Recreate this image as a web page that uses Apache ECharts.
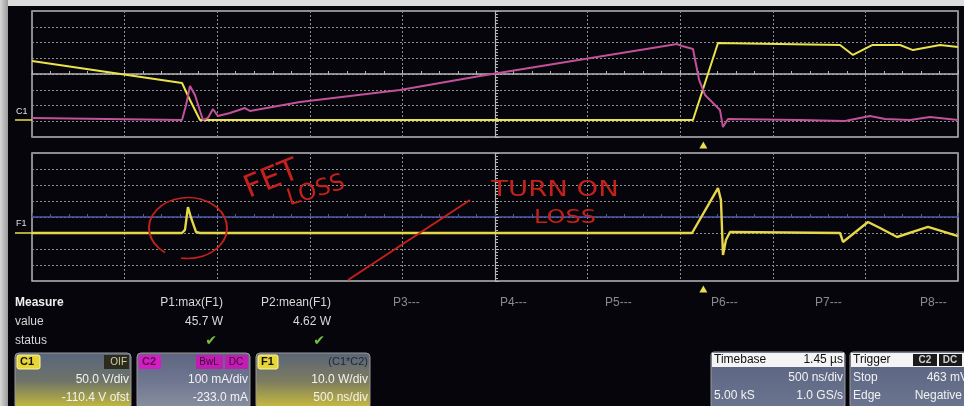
<!DOCTYPE html>
<html><head><meta charset="utf-8">
<script src="https://cdn.jsdelivr.net/npm/echarts@6/dist/echarts.min.js"></script>
<style>html,body{margin:0;padding:0;background:#05050b;}#c{width:964px;height:406px;}</style>
</head><body><div id="c"></div><script>
// time in ns relative to screen centre (500 ns/div), values in divisions
const c1Time = [-2500,-1690,-1647,-1593,1069,1204,1863,1933,2036,2187,2257,2403,2500];
const c1Div  = [0.83,-0.57,-1.65,-2.92,-2.92,1.97,1.84,1.21,1.84,1.84,1.52,1.84,1.71];
const c2Time = [-2500,-1690,-1668,-1647,-1620,-1577,-1550,-1523,-1496,-1431,-1350,-1323,-1053,-513,-81,351,983,1010,1069,1102,1134,1177,1215,1231,1258,1647,1890,1971,2025,2106,2241,2349,2500];
const c2Div  = [-2.79,-2.92,-1.97,-0.76,-1.33,-2.92,-2.79,-2.22,-2.67,-2.48,-2.16,-2.35,-1.78,-1.02,-0.13,0.70,1.90,1.78,1.59,-0.38,-1.33,-1.84,-2.29,-3.37,-2.86,-2.92,-2.98,-2.79,-2.67,-2.86,-2.92,-2.73,-2.92];
const f1Time = [-2500,-1690,-1674,-1658,-1641,-1614,-1593,1064,1204,1220,1231,1247,1269,1863,1879,2014,2079,2171,2338,2430,2500];
const f1Div  = [-1.0,-1.0,-0.81,0.62,-0.06,-0.94,-1.0,-1.0,1.81,1.06,-2.37,-1.44,-0.94,-1.0,-1.56,-0.31,-0.69,-1.25,-0.62,-0.94,-1.19];
const triggerTime = 1125;
const measureHeads = ['P1:max(F1)','P2:mean(F1)'];
const measureVals = ['45.7 W','4.62 W'];
const emptyParams = ['P3---','P4---','P5---','P6---','P7---','P8---'];

const zip = (a,b)=>a.map((t,i)=>[t,b[i]]);
const FONT = '"Liberation Sans", Arial, sans-serif';
const chart = echarts.init(document.getElementById('c'));

function xAx(gi, col){
  return {type:'value', gridIndex:gi, min:-2500, max:2500, interval:500,
    axisLabel:{show:false},
    axisLine:{show:true, onZero:true, lineStyle:{color:col, width:1.5}},
    axisTick:{show:true, inside:true, length:4, lineStyle:{color:col}},
    minorTick:{show:true, splitNumber:5, length:3, lineStyle:{color:col}},
    splitLine:{show:true, lineStyle:{color:'#8e8e8e', type:[2,2], width:1}}};
}
function yAx(gi, col){
  return {type:'value', gridIndex:gi, min:-4, max:4, interval:1,
    axisLabel:{show:false},
    axisLine:{show:true, onZero:true, lineStyle:{color:col, width:1.2}},
    axisTick:{show:true, inside:true, length:4, lineStyle:{color:col}},
    minorTick:{show:true, splitNumber:5, length:3, lineStyle:{color:col}},
    splitLine:{show:true, lineStyle:{color:'#8e8e8e', type:[2,2], width:1}}};
}
function txt(x,y,s,o){o=o||{};return {type:'text', x:x, y:y, z:100, rotation:o.r||0, scaleX:o.sx||1,
  style:{text:s, fill:o.c||'#d8d8d8', font:o.f||('11px '+FONT), align:o.a||'left', verticalAlign:'middle'}};}
function rect(x,y,w,h,fill,stroke,r){return {type:'rect', z:90, shape:{x:x,y:y,width:w,height:h,r:r||0},
  style:{fill:fill, stroke:stroke||null, lineWidth:1}};}
const grad=(stops)=>new echarts.graphic.LinearGradient(0,0,0,1,stops.map((c,i)=>({offset:i/(stops.length-1),color:c})));

const RED='#c4201c';
const g = [];
// screenshot frame edges
g.push(rect(0,0,964,6,'#dcdcdc'));
g.push({type:'rect', z:90, shape:{x:0,y:0,width:8,height:406}, style:{fill:new echarts.graphic.LinearGradient(0,0,1,0,[{offset:0,color:'#d8d8d8'},{offset:1,color:'#9a9a9a'}])}});
// channel side labels
g.push(txt(16,112,'C1',{f:'9px '+FONT,c:'#e0e0e0'}));
g.push({type:'line',z:90,shape:{x1:15,y1:120,x2:32,y2:120},style:{stroke:'#e8e048',lineWidth:1.5}});
g.push(txt(16,224,'F1',{f:'9px '+FONT,c:'#e0e0e0'}));
g.push({type:'line',z:90,shape:{x1:15,y1:233,x2:32,y2:233},style:{stroke:'#e8e048',lineWidth:1.5}});
// red annotations
g.push(txt(272,180,'FET',{f:'31px "DejaVu Sans", sans-serif',c:RED,r:0.38,a:'center'}));
g.push(txt(316,191,'LOSS',{f:'23px "DejaVu Sans", sans-serif',c:RED,r:0.3,a:'center'}));
g.push(txt(555,190,'TURN ON',{f:'22px "DejaVu Sans", sans-serif',c:RED,a:'center',sx:1.25}));
g.push(txt(565,218,'LOSS',{f:'20px "DejaVu Sans", sans-serif',c:RED,a:'center',sx:1.2}));
g.push({type:'arc',z:95,x:188,y:228,scaleY:0.78,shape:{cx:0,cy:0,r:39,startAngle:2.2,endAngle:2.2+Math.PI*2-0.45},style:{stroke:RED,lineWidth:2,fill:null}});
g.push({type:'line',z:95,shape:{x1:348,y1:280,x2:470,y2:200},style:{stroke:RED,lineWidth:2}});
// measure table
g.push(txt(15,303,'Measure',{f:'bold 12px '+FONT,c:'#f0f0f0'}));
g.push(txt(15,322,'value',{f:'12px '+FONT}));
g.push(txt(15,341,'status',{f:'12px '+FONT}));
const headRight=[223,331];
measureHeads.forEach((h,i)=>{g.push(txt(headRight[i],303,h,{f:'12px '+FONT,a:'right'}));
  g.push(txt(headRight[i],322,measureVals[i],{f:'12px '+FONT,a:'right'}));
  g.push(txt(headRight[i]-6,341,'✔',{f:'14px "DejaVu Sans"',c:'#74c23e',a:'right'}));});
const emptyX=[393,500,605,711,815,920];
emptyParams.forEach((p,i)=>g.push(txt(emptyX[i],303,p,{f:'12px '+FONT,c:'#8a8a8a'})));
// channel descriptor boxes
g.push(rect(15,353,116,56,grad(['#58657e','#6e7468','#c9bf3a']),'#9a9a9a',4));
g.push(rect(17,355,23,14,'#e6d63a','#fff59a',2)); g.push(txt(20,362,'C1',{f:'bold 11px '+FONT,c:'#111'}));
g.push(rect(104,355,25,14,'#2c2c1e')); g.push(txt(127,362,'OIF',{f:'10px '+FONT,c:'#cfcfa0',a:'right'}));
g.push(txt(129,380,'50.0 V/div',{f:'12px '+FONT,c:'#f2f2f2',a:'right'}));
g.push(txt(129,398,'-110.4 V ofst',{f:'12px '+FONT,c:'#f2f2f2',a:'right'}));
g.push(rect(137,353,113,56,grad(['#5d6580','#6f7690','#8a90a0']),'#9a9a9a',4));
g.push(rect(139,355,22,14,'#d21ec4')); g.push(txt(142,362,'C2',{f:'bold 11px '+FONT,c:'#5a0a50'}));
g.push(rect(196,355,27,14,'#c21cb4')); g.push(txt(209,362,'BwL',{f:'10px '+FONT,c:'#3a0a36',a:'center'}));
g.push(rect(225,355,23,14,'#c21cb4')); g.push(txt(236,362,'DC',{f:'10px '+FONT,c:'#3a0a36',a:'center'}));
g.push(txt(248,380,'100 mA/div',{f:'12px '+FONT,c:'#f2f2f2',a:'right'}));
g.push(txt(248,398,'-233.0 mA',{f:'12px '+FONT,c:'#f2f2f2',a:'right'}));
g.push(rect(256,353,114,56,grad(['#5a6478','#7c7c60','#cdbf3c']),'#9a9a9a',4));
g.push(rect(258,355,20,14,'#e6d63a','#fff59a',2)); g.push(txt(261,362,'F1',{f:'bold 11px '+FONT,c:'#111'}));
g.push(txt(368,362,'(C1*C2)',{f:'11px '+FONT,c:'#1c2440',a:'right'}));
g.push(txt(368,380,'10.0 W/div',{f:'12px '+FONT,c:'#f2f2f2',a:'right'}));
g.push(txt(368,398,'500 ns/div',{f:'12px '+FONT,c:'#f2f2f2',a:'right'}));
// timebase / trigger
g.push(rect(711,352,134,56,grad(['#59627e','#6c7590']),'#9a9a9a',3));
g.push(rect(712,353,132,14,'#f4f4f4'));
g.push(txt(714,360,'Timebase',{f:'12px '+FONT,c:'#111'}));
g.push(txt(843,360,'1.45 µs',{f:'12px '+FONT,c:'#111',a:'right'}));
g.push(txt(843,378,'500 ns/div',{f:'12px '+FONT,c:'#f2f2f2',a:'right'}));
g.push(txt(714,396,'5.00 kS',{f:'12px '+FONT,c:'#f2f2f2'}));
g.push(txt(843,396,'1.0 GS/s',{f:'12px '+FONT,c:'#f2f2f2',a:'right'}));
g.push(rect(850,352,118,56,grad(['#59627e','#6c7590']),'#9a9a9a',3));
g.push(rect(851,353,116,14,'#f4f4f4'));
g.push(txt(853,360,'Trigger',{f:'12px '+FONT,c:'#111'}));
g.push(rect(913,354,24,12,'#1a1a1a')); g.push(txt(925,360,'C2',{f:'bold 10px '+FONT,c:'#d0d0d0',a:'center'}));
g.push(rect(939,354,23,12,'#1a1a1a')); g.push(txt(950,360,'DC',{f:'bold 10px '+FONT,c:'#d0d0d0',a:'center'}));
g.push(txt(853,378,'Stop',{f:'12px '+FONT,c:'#f2f2f2'}));
g.push(txt(968,378,'463 mV',{f:'12px '+FONT,c:'#f2f2f2',a:'right'}));
g.push(txt(853,396,'Edge',{f:'12px '+FONT,c:'#f2f2f2'}));
g.push(txt(962,396,'Negative',{f:'12px '+FONT,c:'#f2f2f2',a:'right'}));

const trig = ()=>({symbol:'triangle', symbolSize:[8,7], symbolOffset:[0,8], silent:true,
  label:{show:false}, itemStyle:{color:'#e8e04a'}, data:[{coord:[triggerTime,-4]}]});

chart.setOption({
  animation:false,
  backgroundColor:'#05050b',
  grid:[{left:32,top:11,width:926,height:126,show:true,borderColor:'#b8b8b8',borderWidth:1.5,backgroundColor:'transparent'},
        {left:32,top:153,width:926,height:128,show:true,borderColor:'#b8b8b8',borderWidth:1.5,backgroundColor:'transparent'}],
  xAxis:[xAx(0,'#b4b4b4'), xAx(1,'#4b5aa8')],
  yAxis:[yAx(0,'#b4b4b4'), yAx(1,'#b4b4b4')],
  graphic:g,
  series:[
    {name:'C1', type:'line', xAxisIndex:0, yAxisIndex:0, showSymbol:false, data:zip(c1Time,c1Div),
     lineStyle:{color:'#ebe34a', width:2}, z:3, markPoint:trig()},
    {name:'C2', type:'line', xAxisIndex:0, yAxisIndex:0, showSymbol:false, data:zip(c2Time,c2Div),
     lineStyle:{color:'#c2519a', width:2}, z:4},
    {name:'F1', type:'line', xAxisIndex:1, yAxisIndex:1, showSymbol:false, data:zip(f1Time,f1Div),
     lineStyle:{color:'#e6d64a', width:2.4}, z:3, markPoint:trig()}
  ]
});
</script></body></html>
